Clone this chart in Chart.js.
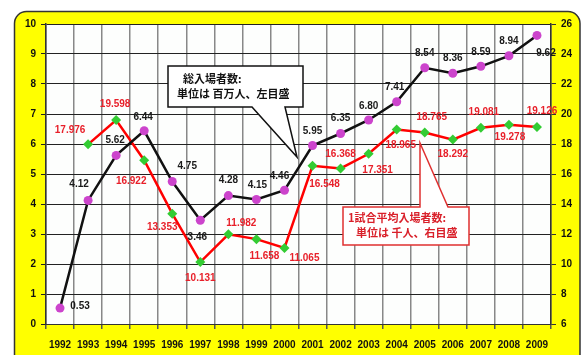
<!DOCTYPE html>
<html>
<head>
<meta charset="utf-8">
<script src="https://cdn.jsdelivr.net/npm/chart.js@4.4.0/dist/chart.umd.min.js"></script>
<style>
  html, body { margin: 0; padding: 0; background: #fff; }
  #box { width: 581px; height: 355px; }
</style>
</head>
<body>
<div id="box"><canvas id="lineChart" width="581" height="355"></canvas></div>
<script>
// years on the x axis
var years = ['1992','1993','1994','1995','1996','1997','1998','1999','2000',
             '2001','2002','2003','2004','2005','2006','2007','2008','2009'];
// total attendance, millions (left axis)
var totalAttendance = [0.53, 4.12, 5.62, 6.44, 4.75, 3.46, 4.28, 4.15, 4.46,
                       5.95, 6.35, 6.80, 7.41, 8.54, 8.36, 8.59, 8.94, 9.62];
// average attendance per match, thousands (right axis)
var avgAttendance = [null, 17.976, 19.598, 16.922, 13.353, 10.131, 11.982, 11.658, 11.065,
                     16.548, 16.368, 17.351, 18.965, 18.765, 18.292, 19.081, 19.278, 19.126];
var leftTicks = [0, 1, 2, 3, 4, 5, 6, 7, 8, 9, 10];
var rightTicks = [6, 8, 10, 12, 14, 16, 18, 20, 22, 24, 26];

// label text shown next to each point
var totalText = totalAttendance.map(function (v) { return v.toFixed(2); });
var avgText = avgAttendance.map(function (v) { return v == null ? '' : v.toFixed(3); });

// where each label sits relative to its point
var totalOffsets = [[20,-2],[-9,-16],[-1,-15],[-1,-14],[15,-15],[-3,17],[0,-15],[1,-14],[-5,-14],
                    [0,-14],[0,-15],[0,-14],[-2,-14],[0,-15],[0,-15],[0,-14],[0,-15],[9,18]];
var avgOffsets = [[0,0],[-18,-14],[-1,-16],[-13,21],[-10,14],[0,16],[13,-11],[8,17],[20,10],
                  [12,18],[0,-14],[9,17],[4,16],[7,-15],[0,15],[3,-16],[1,12],[5,-16]];

var bgPlugin = {
  id: 'bg',
  beforeDraw: function (chart) {
    var c = chart.ctx, a = chart.chartArea;
    c.save();
    c.fillStyle = '#ffffff';
    c.fillRect(0, 0, chart.width, chart.height);
    c.beginPath();
    c.roundRect(14.5, 11.5, chart.width - 15.5, chart.height + 20, 12);
    c.fillStyle = '#ffff00';
    c.fill();
    c.lineWidth = 1.5;
    c.strokeStyle = '#333';
    c.stroke();
    c.fillStyle = '#fdfefd';
    c.fillRect(a.left, a.top, a.right - a.left, a.bottom - a.top);
    c.restore();
  }
};

function callout(c, pts, stroke, fill) {
  c.beginPath();
  c.moveTo(pts[0][0], pts[0][1]);
  for (var i = 1; i < pts.length; i++) c.lineTo(pts[i][0], pts[i][1]);
  c.closePath();
  c.fillStyle = fill;
  c.fill();
  c.lineWidth = 1.5;
  c.strokeStyle = stroke;
  c.stroke();
}

var labelPlugin = {
  id: 'labels',
  afterDatasetsDraw: function (chart) {
    var c = chart.ctx;
    c.save();
    // callout for total attendance
    callout(c, [[168,66],[303,66],[303,107],[285,107],[297,157],[252,107],[168,107]], '#111', '#fff');
    // callout for average attendance
    callout(c, [[343,207],[420,207],[420,143],[448,207],[469,207],[469,245],[343,245]], '#e03030', '#fff');
    c.textBaseline = 'middle';
    c.textAlign = 'left';
    c.font = 'bold 11px "Noto Sans CJK JP"';
    c.fillStyle = '#111';
    c.fillText('総入場者数:', 183, 79);
    c.fillText('単位は 百万人、左目盛', 177, 94);
    c.fillStyle = '#d9202a';
    c.fillText('1試合平均入場者数:', 348, 218);
    c.fillText('単位は 千人、右目盛', 356, 233);

    c.textAlign = 'center';
    c.font = 'bold 10px "Liberation Sans"';
    var m0 = chart.getDatasetMeta(0), m1 = chart.getDatasetMeta(1);
    m0.data.forEach(function (p, i) {
      c.fillStyle = '#1a1a1a';
      c.fillText(totalText[i], p.x + totalOffsets[i][0], p.y + totalOffsets[i][1]);
    });
    m1.data.forEach(function (p, i) {
      if (avgAttendance[i] == null) return;
      c.fillStyle = '#e8202a';
      c.fillText(avgText[i], p.x + avgOffsets[i][0], p.y + avgOffsets[i][1]);
    });
    c.restore();
  }
};

var ctx = document.getElementById('lineChart').getContext('2d');
var lineChart = new Chart(ctx, {
  type: 'line',
  data: {
    labels: years,
    datasets: [{
      data: totalAttendance,
      yAxisID: 'y',
      borderColor: '#111111',
      borderWidth: 2.5,
      pointStyle: 'circle',
      pointRadius: 4.5,
      pointBackgroundColor: '#cc44cc',
      pointBorderColor: '#cc44cc',
      pointBorderWidth: 0,
      tension: 0
    }, {
      data: avgAttendance,
      yAxisID: 'y2',
      borderColor: '#ff0000',
      borderWidth: 2.5,
      pointStyle: 'rectRot',
      pointRadius: 5,
      pointBackgroundColor: '#33cc33',
      pointBorderColor: '#33cc33',
      pointBorderWidth: 0,
      tension: 0
    }]
  },
  options: {
    responsive: false,
    animation: false,
    layout: { autoPadding: false, padding: { top: 24, left: 0, right: 0, bottom: 0 } },
    plugins: {
      legend: { display: false },
      tooltip: { enabled: false }
    },
    scales: {
      x: {
        offset: true,
        grid: { offset: true, color: '#888', lineWidth: 1.5, tickLength: 5, tickColor: '#555' },
        border: { color: '#333', width: 1 },
        ticks: { color: '#111', padding: 10, maxRotation: 0, font: { family: 'Liberation Sans', size: 10, weight: 'bold' } },
        afterFit: function (s) { s.height = 31; }
      },
      y: {
        position: 'left',
        min: 0, max: 10,
        afterBuildTicks: function (s) { s.ticks = leftTicks.map(function (v) { return { value: v }; }); },
        grid: { color: '#222', lineWidth: 1, tickLength: 5 },
        border: { color: '#333', width: 1.5 },
        ticks: { color: '#111', padding: 5, font: { family: 'Liberation Sans', size: 10, weight: 'bold' } },
        afterFit: function (s) { s.width = 46; }
      },
      y2: {
        position: 'right',
        min: 6, max: 26,
        afterBuildTicks: function (s) { s.ticks = rightTicks.map(function (v) { return { value: v }; }); },
        grid: { drawOnChartArea: false, color: '#333', tickLength: 5 },
        border: { color: '#333', width: 1.5 },
        ticks: { color: '#111', padding: 5, font: { family: 'Liberation Sans', size: 10, weight: 'bold' } },
        afterFit: function (s) { s.width = 30; }
      }
    }
  },
  plugins: [bgPlugin, labelPlugin]
});
</script>
</body>
</html>
